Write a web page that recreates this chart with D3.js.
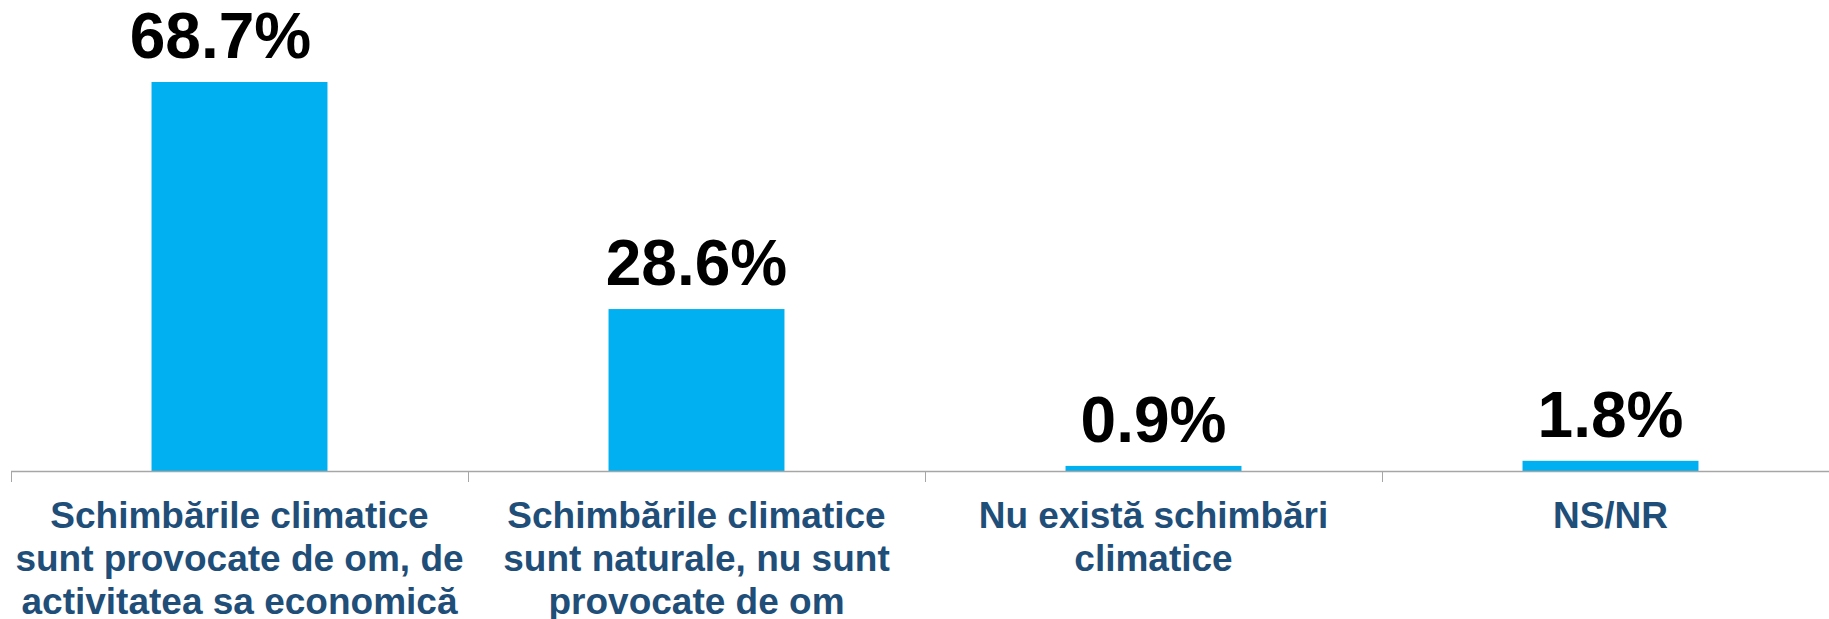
<!DOCTYPE html>
<html>
<head>
<meta charset="utf-8">
<script src="https://cdn.jsdelivr.net/npm/d3@7"></script>
<style>
html,body{margin:0;padding:0;background:#fff;}
svg{display:block;}
</style>
</head>
<body>
<svg id="chart" width="1829" height="619"></svg>
<script>
const categories = [
  "Schimbările climatice sunt provocate de om, de activitatea sa economică",
  "Schimbările climatice sunt naturale, nu sunt provocate de om",
  "Nu există schimbări climatice",
  "NS/NR"
];
const categoryLines = [
  ["Schimbările climatice", "sunt provocate de om, de", "activitatea sa economică"],
  ["Schimbările climatice", "sunt naturale, nu sunt", "provocate de om"],
  ["Nu există schimbări", "climatice"],
  ["NS/NR"]
];
const values = [68.7, 28.6, 0.9, 1.8];
const valueLabels = ["68.7%", "28.6%", "0.9%", "1.8%"];

const svg = d3.select("#chart");
const baseY = 471;
const x = d3.scaleBand().domain(categories).range([11, 1839]).paddingInner(0.615).paddingOuter(0.3075);
const y = d3.scaleLinear().domain([0, 68.7]).range([baseY, 82]);

// bars
svg.selectAll("rect.bar").data(values).enter().append("rect")
  .attr("class", "bar")
  .attr("x", (d, i) => x(categories[i]))
  .attr("width", x.bandwidth())
  .attr("y", d => y(d))
  .attr("height", d => baseY - y(d))
  .attr("fill", "#00B0F0");

// axis line and ticks at band boundaries
const step = x.step();
const x0 = 11;
svg.append("line").attr("x1", x0).attr("x2", 1829).attr("y1", baseY + 0.5).attr("y2", baseY + 0.5)
  .attr("stroke", "#A6A6A6").attr("stroke-width", 1.5);
const tickXs = d3.range(categories.length + 1).map(i => x0 + i * step);
svg.selectAll("line.tick").data(tickXs).enter().append("line")
  .attr("class", "tick")
  .attr("x1", d => Math.round(d) + 0.5).attr("x2", d => Math.round(d) + 0.5)
  .attr("y1", baseY).attr("y2", baseY + 11)
  .attr("stroke", "#A6A6A6").attr("stroke-width", 1);

// value labels
svg.selectAll("text.val").data(values).enter().append("text")
  .attr("class", "val")
  .attr("x", (d, i) => x(categories[i]) + x.bandwidth() / 2 + (i === 0 ? -19 : 0))
  .attr("y", d => y(d) - 24)
  .attr("text-anchor", "middle")
  .attr("font-family", "'Liberation Sans', Arial, sans-serif")
  .attr("font-weight", "bold")
  .attr("font-size", 64)
  .attr("fill", "#000")
  .text((d, i) => valueLabels[i]);

// category labels
const catG = svg.selectAll("text.cat").data(categories).enter().append("text")
  .attr("class", "cat")
  .attr("text-anchor", "middle")
  .attr("font-family", "'Liberation Sans', Arial, sans-serif")
  .attr("font-weight", "bold")
  .attr("font-size", 37)
  .attr("fill", "#1F4E79");
catG.each(function(d, i) {
  const t = d3.select(this);
  const cx = x(d) + x.bandwidth() / 2;
  categoryLines[i].forEach((ln, j) => {
    t.append("tspan").attr("x", cx).attr("y", 528 + j * 43).text(ln);
  });
});
</script>
</body>
</html>
